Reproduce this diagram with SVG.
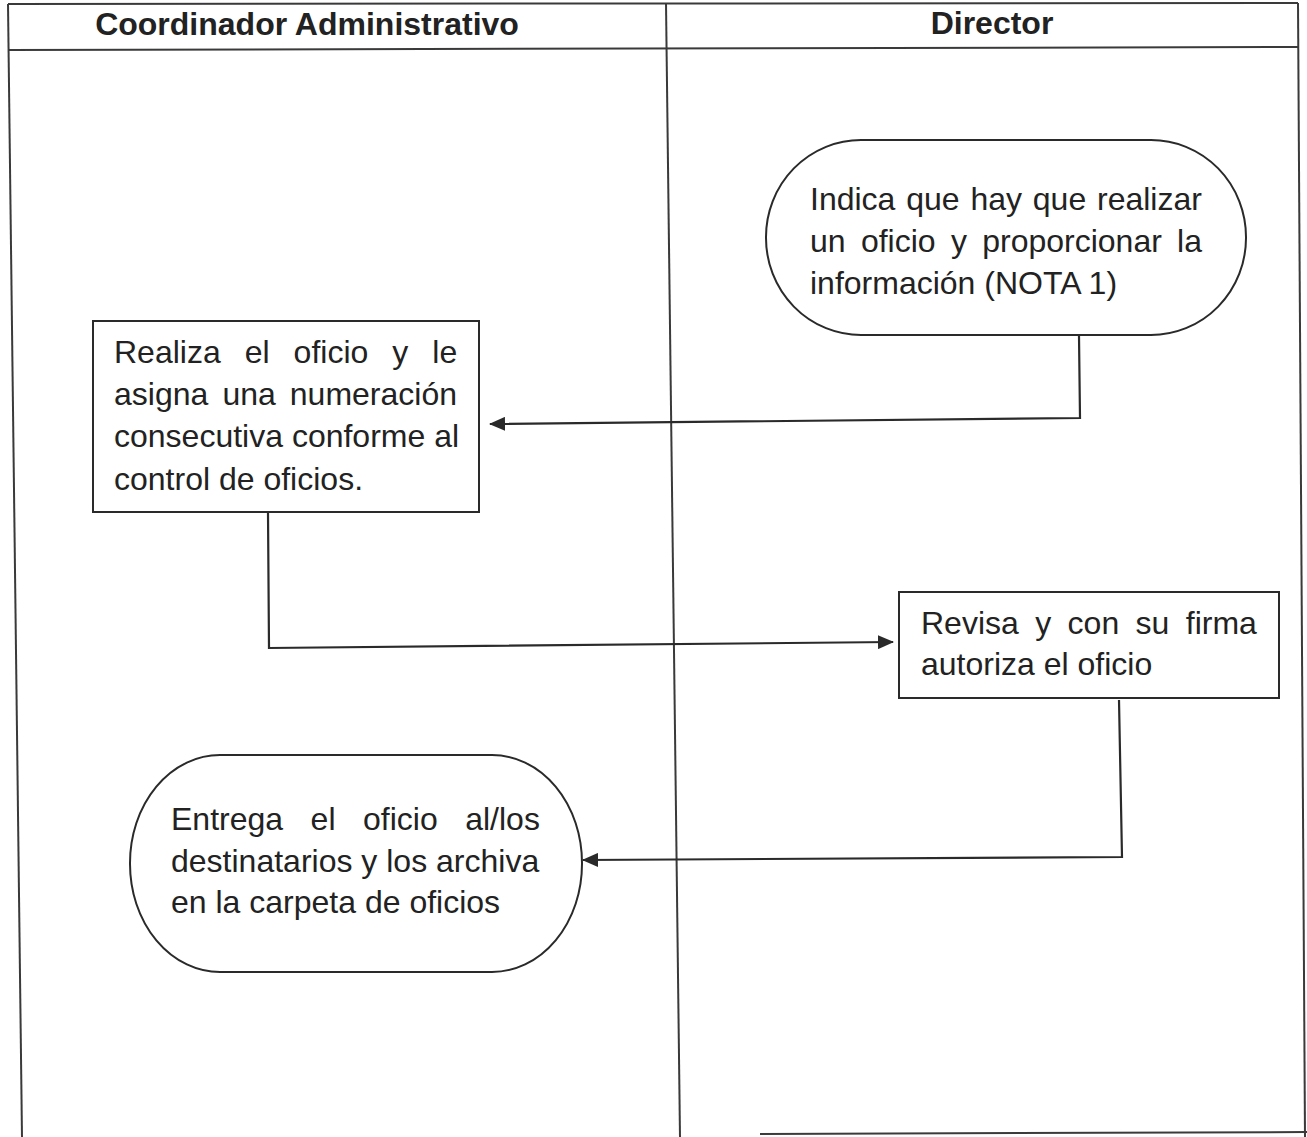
<svg xmlns="http://www.w3.org/2000/svg" width="1307" height="1137" viewBox="0 0 1307 1137">
<style>
  .frame{fill:none;stroke:#3a3a3a;stroke-width:2}
  .shape{fill:#ffffff;stroke:#2a2a2a;stroke-width:2}
  .conn{fill:none;stroke:#2a2a2a;stroke-width:2.2}
  .hdr{font-family:"Liberation Sans",Arial,sans-serif;font-weight:bold;font-size:32px;fill:#222;text-anchor:middle}
  .t{font-family:"Liberation Sans",Arial,sans-serif;font-size:32px;fill:#222}
</style>
<defs>
  <marker id="ah" markerWidth="16" markerHeight="14" refX="15" refY="7" orient="auto" markerUnits="userSpaceOnUse">
    <path d="M0,0 L16,7 L0,14 Z" fill="#2a2a2a"/>
  </marker>
</defs>
<rect width="1307" height="1137" fill="#ffffff"/>
<g id="lanes">
  <line class="frame" x1="8" y1="4" x2="1298" y2="3"/>
  <line class="frame" x1="8" y1="50" x2="1299" y2="47"/>
  <line class="frame" x1="8" y1="4" x2="22" y2="1137"/>
  <line class="frame" x1="666" y1="3" x2="680" y2="1137"/>
  <line class="frame" x1="1298" y1="3" x2="1305" y2="1137"/>
  <line class="frame" x1="760" y1="1134" x2="1307" y2="1132"/>
  <text class="hdr" x="307" y="35">Coordinador Administrativo</text>
  <text class="hdr" x="992" y="34">Director</text>
</g>
<g id="connectors">
  <polyline class="conn" points="1079,336 1080,418 490,424" marker-end="url(#ah)"/>
  <polyline class="conn" points="268,513 269,648 893,642" marker-end="url(#ah)"/>
  <polyline class="conn" points="1119,700 1122,857 583,860" marker-end="url(#ah)"/>
</g>
<g id="n1">
  <rect class="shape" x="766" y="140" width="480" height="195" rx="95" ry="97"/>
  <text class="t" y="210"><tspan x="810">Indica</tspan><tspan x="906.2">que</tspan><tspan x="970.4">hay</tspan><tspan x="1032.8">que</tspan><tspan x="1097">realizar</tspan></text>
  <text class="t" y="252"><tspan x="810">un</tspan><tspan x="860.9">oficio</tspan><tspan x="950.9">y</tspan><tspan x="982.2">proporcionar</tspan><tspan x="1177.1">la</tspan></text>
  <text class="t" x="810" y="294">información (NOTA 1)</text>
</g>
<g id="n2">
  <rect class="shape" x="93" y="321" width="386" height="191"/>
  <text class="t" y="363"><tspan x="114">Realiza</tspan><tspan x="244.7">el</tspan><tspan x="293.6">oficio</tspan><tspan x="392.3">y</tspan><tspan x="432.3">le</tspan></text>
  <text class="t" y="405"><tspan x="114">asigna</tspan><tspan x="222.4">una</tspan><tspan x="289.8">numeración</tspan></text>
  <text class="t" x="114" y="447">consecutiva conforme al</text>
  <text class="t" x="114" y="490">control de oficios.</text>
</g>
<g id="n3">
  <rect class="shape" x="899" y="592" width="380" height="106"/>
  <text class="t" y="634"><tspan x="921">Revisa</tspan><tspan x="1035.2">y</tspan><tspan x="1067.6">con</tspan><tspan x="1135.6">su</tspan><tspan x="1185.8">firma</tspan></text>
  <text class="t" x="921" y="675">autoriza el oficio</text>
</g>
<g id="n4">
  <rect class="shape" x="130" y="755" width="452" height="217" rx="90" ry="108"/>
  <text class="t" y="830"><tspan x="171">Entrega</tspan><tspan x="310.6">el</tspan><tspan x="363">oficio</tspan><tspan x="465.2">al/los</tspan></text>
  <text class="t" x="171" y="872">destinatarios y los archiva</text>
  <text class="t" x="171" y="913">en la carpeta de oficios</text>
</g>
</svg>
